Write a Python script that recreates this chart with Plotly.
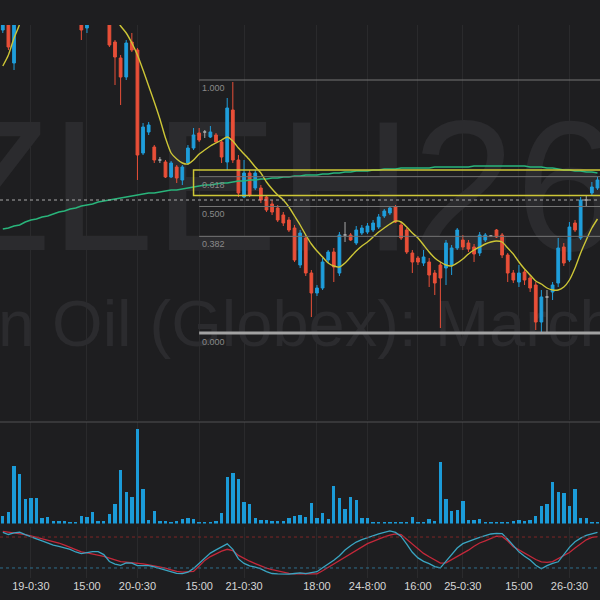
import plotly.graph_objects as go

# ---------------- data ----------------
opens = [54.70, 54.90, 54.37, 54.85, 55.10, 55.30, 55.45, 55.35, 55.25, 55.30,
         55.28, 55.20, 55.10, 55.15, 55.05, 54.72, 54.95, 55.15, 55.05, 54.88,
         54.58, 54.42, 54.23, 54.58, 54.50, 53.47, 53.68, 53.53, 53.40, 53.38,
         53.23, 53.33, 53.20, 53.37, 53.52, 53.67, 53.68, 53.63, 53.65, 53.58,
         53.38, 53.90, 53.40, 53.03, 53.27, 53.12, 53.12, 53.03, 52.96, 52.92,
         52.85, 52.80, 52.72, 52.35, 52.62, 52.27, 52.07, 52.12, 52.40, 52.48,
         52.27, 52.65, 52.65, 52.57, 52.67, 52.68, 52.70, 52.73, 52.84, 52.87,
         52.93, 52.75, 52.70, 52.47, 52.42, 52.37, 52.38, 52.27, 52.35, 52.32,
         52.35, 52.52, 52.60, 52.57, 52.53, 52.47, 52.60, 52.64, 52.70, 52.65,
         52.45, 52.27, 52.18, 52.28, 52.22, 52.15, 51.78, 52.03, 52.08, 52.17,
         52.53, 52.40, 52.77, 52.62, 53.00, 53.07, 53.12]
highs = [55.00, 54.95, 54.92, 55.15, 55.35, 55.50, 55.55, 55.45, 55.35, 55.40,
         55.38, 55.30, 55.25, 55.25, 55.15, 55.10, 55.20, 55.25, 55.15, 54.92,
         54.60, 54.45, 54.60, 54.67, 54.52, 53.77, 53.78, 53.55, 53.43, 53.40,
         53.39, 53.35, 53.35, 53.55, 53.72, 53.72, 53.70, 53.74, 53.67, 53.60,
         54.02, 54.18, 53.45, 53.40, 53.30, 53.30, 53.15, 53.05, 53.00, 52.95,
         52.88, 52.83, 52.75, 52.70, 52.65, 52.30, 52.15, 52.42, 52.50, 52.52,
         52.68, 52.78, 52.67, 52.74, 52.75, 52.77, 52.80, 52.86, 52.91, 52.94,
         52.95, 52.78, 52.72, 52.50, 52.44, 52.50, 52.42, 52.30, 52.38, 52.60,
         52.55, 52.72, 52.65, 52.60, 52.56, 52.68, 52.67, 52.65, 52.71, 52.67,
         52.47, 52.30, 52.35, 52.30, 52.25, 52.18, 52.10, 52.10, 52.18, 52.62,
         52.57, 52.78, 52.80, 53.03, 53.04, 53.18, 53.23]
lows = [54.67, 54.50, 54.30, 54.80, 55.05, 55.25, 55.30, 55.20, 55.15, 55.20,
        55.15, 55.05, 55.00, 54.95, 54.60, 54.67, 54.90, 55.00, 54.82, 54.53,
        54.15, 53.95, 54.20, 54.48, 53.20, 53.45, 53.65, 53.37, 53.37, 53.22,
        53.22, 53.17, 53.15, 53.35, 53.50, 53.58, 53.62, 53.62, 53.57, 53.37,
        53.30, 53.37, 53.03, 53.02, 53.03, 53.10, 52.97, 52.88, 52.85, 52.78,
        52.74, 52.68, 52.38, 52.32, 52.24, 51.83, 52.04, 52.10, 52.37, 52.18,
        52.24, 52.58, 52.59, 52.55, 52.65, 52.66, 52.68, 52.71, 52.82, 52.85,
        52.77, 52.60, 52.46, 52.27, 52.35, 52.34, 52.13, 52.05, 51.72, 52.15,
        52.25, 52.50, 52.50, 52.48, 52.38, 52.44, 52.58, 52.63, 52.62, 52.42,
        52.18, 52.17, 52.13, 52.15, 52.08, 51.70, 51.68, 51.68, 52.00, 52.13,
        52.34, 52.38, 52.68, 52.60, 52.93, 53.05, 53.10]
closes = [54.95, 54.53, 54.85, 55.10, 55.30, 55.45, 55.35, 55.25, 55.30, 55.28,
          55.20, 55.10, 55.15, 55.05, 54.70, 54.95, 55.15, 55.05, 54.90, 54.55,
          54.43, 54.23, 54.57, 54.50, 53.45, 53.73, 53.75, 53.40, 53.40, 53.23,
          53.37, 53.22, 53.33, 53.52, 53.65, 53.60, 53.68, 53.68, 53.58, 53.43,
          53.92, 53.40, 53.07, 53.27, 53.05, 53.27, 53.00, 52.90, 52.88, 52.80,
          52.77, 52.70, 52.40, 52.67, 52.27, 52.07, 52.12, 52.38, 52.48, 52.33,
          52.65, 52.65, 52.60, 52.70, 52.72, 52.74, 52.77, 52.83, 52.89, 52.92,
          52.78, 52.62, 52.48, 52.38, 52.38, 52.43, 52.25, 52.17, 52.22, 52.57,
          52.52, 52.70, 52.53, 52.51, 52.46, 52.65, 52.65, 52.64, 52.63, 52.45,
          52.27, 52.20, 52.27, 52.20, 52.12, 51.78, 52.03, 52.03, 52.15, 52.52,
          52.37, 52.73, 52.70, 53.00, 53.00, 53.13, 53.20]
ma_fast = [54.34, 54.45, 54.62, 54.76, 55.10, 55.30, 55.40, 55.45, 55.45, 55.40,
           55.35, 55.30, 55.25, 55.20, 55.15, 55.10, 55.05, 55.00, 54.95, 54.90,
           54.82, 54.74, 54.67, 54.57, 54.45, 54.30, 54.14, 53.98, 53.81, 53.62,
           53.47, 53.41, 53.37, 53.36, 53.40, 53.46, 53.50, 53.54, 53.57, 53.60,
           53.63, 53.59, 53.52, 53.46, 53.40, 53.33, 53.27, 53.18, 53.11, 53.05,
           53.00, 52.93, 52.84, 52.75, 52.65, 52.56, 52.49, 52.43, 52.37, 52.34,
           52.33, 52.37, 52.43, 52.49, 52.54, 52.58, 52.63, 52.68, 52.72, 52.76,
           52.79, 52.78, 52.73, 52.67, 52.62, 52.55, 52.48, 52.42, 52.38, 52.35,
           52.34, 52.37, 52.41, 52.46, 52.50, 52.53, 52.56, 52.58, 52.59, 52.58,
           52.52, 52.46, 52.38, 52.31, 52.25, 52.19, 52.16, 52.12, 52.10, 52.10,
           52.13, 52.20, 52.32, 52.47, 52.60, 52.72, 52.81]
ma_slow = [52.71, 52.72, 52.74, 52.75, 52.78, 52.80, 52.81, 52.83, 52.84, 52.86,
           52.88, 52.89, 52.91, 52.92, 52.94, 52.95, 52.96, 52.98, 52.99, 53.00,
           53.01, 53.02, 53.03, 53.04, 53.05, 53.06, 53.07, 53.07, 53.08, 53.09,
           53.10, 53.10, 53.11, 53.12, 53.13, 53.14, 53.15, 53.15, 53.16, 53.17,
           53.17, 53.18, 53.19, 53.19, 53.20, 53.20, 53.21, 53.21, 53.22, 53.22,
           53.23, 53.23, 53.24, 53.24, 53.25, 53.25, 53.25, 53.26, 53.26, 53.27,
           53.27, 53.28, 53.28, 53.29, 53.29, 53.29, 53.30, 53.30, 53.31, 53.31,
           53.31, 53.32, 53.32, 53.32, 53.32, 53.32, 53.32, 53.33, 53.33, 53.33,
           53.33, 53.33, 53.33, 53.33, 53.34, 53.34, 53.34, 53.34, 53.34, 53.34,
           53.34, 53.34, 53.34, 53.34, 53.33, 53.33, 53.33, 53.32, 53.32, 53.31,
           53.30, 53.30, 53.29, 53.29, 53.28, 53.28, 53.27]
volume = [200, 300, 1450, 1250, 625, 650, 650, 150, 175, 75,
          75, 75, 25, 50, 200, 175, 300, 75, 75, 250,
          500, 1350, 800, 675, 2375, 875, 100, 325, 75, 75,
          25, 75, 125, 150, 125, 50, 25, 25, 75, 275,
          1175, 1275, 1125, 550, 500, 150, 100, 100, 75, 75,
          75, 150, 200, 225, 175, 525, 150, 275, 125, 950,
          650, 375, 675, 600, 150, 150, 25, 25, 25, 25,
          25, 25, 25, 175, 25, 25, 125, 75, 1550, 625,
          325, 350, 575, 100, 100, 125, 25, 25, 25, 25,
          50, 75, 100, 75, 100, 200, 450, 500, 1050, 800,
          775, 450, 875, 150, 150, 25, 25]
stoch_k = [88.8, 84.9, 88.0, 89.2, 84.7, 80.0, 76.5, 72.5, 67.8, 64.3,
           61.8, 58.9, 56.2, 51.0, 47.7, 49.8, 51.7, 51.6, 45.9, 32.6,
           27.7, 25.0, 29.8, 29.3, 24.4, 24.4, 24.4, 22.3, 19.4, 15.7,
           12.2, 9.5, 8.9, 11.8, 19.2, 29.5, 39.3, 48.8, 55.0, 60.9,
           66.7, 56.2, 37.6, 28.9, 24.2, 21.5, 18.4, 13.0, 9.3, 8.5,
           7.8, 8.1, 9.3, 10.5, 8.9, 10.3, 12.8, 20.3, 27.5, 34.9,
           43.8, 54.7, 63.2, 70.3, 74.8, 79.1, 82.8, 86.2, 89.1, 91.7,
           89.0, 81.2, 66.3, 50.4, 39.5, 32.8, 28.5, 22.7, 20.2, 32.8,
           46.3, 58.7, 67.1, 71.9, 75.6, 79.1, 82.6, 85.9, 87.2, 86.6,
           75.6, 63.8, 51.2, 42.8, 35.5, 25.4, 18.6, 24.4, 29.1, 32.0,
           46.7, 59.9, 70.7, 77.9, 83.3, 86.2, 89.1]
stoch_d = [91.1, 89.7, 88.6, 87.4, 84.7, 82.0, 79.3, 76.5, 73.8, 71.1,
           68.4, 64.1, 59.7, 55.0, 51.2, 49.4, 47.5, 45.7, 42.6, 39.1,
           35.5, 32.2, 31.2, 30.4, 29.5, 28.1, 26.2, 24.4, 22.5, 19.6,
           16.5, 13.4, 11.8, 12.2, 13.4, 23.8, 34.7, 42.1, 47.7, 52.5,
           56.2, 53.5, 44.4, 38.4, 33.1, 28.5, 23.8, 19.6, 16.7, 14.0,
           11.6, 9.7, 8.7, 9.7, 9.3, 8.7, 8.5, 14.7, 21.1, 27.9,
           34.7, 41.3, 48.1, 54.3, 61.0, 67.1, 71.7, 76.4, 80.2, 83.7,
           86.2, 84.7, 75.8, 67.1, 57.6, 48.3, 41.7, 34.9, 29.3, 30.0,
           36.0, 42.2, 48.3, 54.5, 62.2, 68.4, 72.7, 77.5, 81.8, 81.0,
           72.3, 61.4, 55.2, 47.9, 41.9, 36.4, 32.0, 30.8, 32.4, 37.8,
           43.2, 50.0, 58.7, 67.4, 74.6, 79.3, 80.8]
tick_bars = [5, 15, 24, 35, 43, 56, 65, 74, 82, 92, 101]
tick_labels = ["19-0:30", "15:00", "20-0:30", "15:00", "21-0:30", "18:00",
               "24-8:00", "16:00", "25-0:30", "15:00", "26-0:30"]
fib_levels = [1.0, 0.618, 0.5, 0.382, 0.0]
fib_labels = ["1.000", "0.618", "0.500", "0.382", "0.000"]
fib_high = 54.20
fib_low = 51.67
fib_start_bar = 35
zone_top = 53.30
zone_bottom = 53.045
zone_start_bar = 34
last_price = 53.00
stoch_upper = 80
stoch_lower = 20
symbol = "ZLEH26"
description = "Soybean Oil (Globex): March 2026"

n = len(closes)
for arr in (opens, highs, lows, ma_fast, ma_slow, volume, stoch_k, stoch_d):
    assert len(arr) == n, len(arr)
bars = list(range(n))

# ---------------- styles / geometry ----------------
BG = "#1e1e20"
GRID = "#2a2a2c"
UP = "#1f9edb"
DOWN = "#e84f38"
DOJI = "#a8a8a8"
VOL = "#1b9bd8"
YELLOW = "#cdc636"
GREEN = "#29b57b"
WM = "#2b2b2e"
FONT = "Liberation Sans, Arial, sans-serif"


def py(p):
    return 1 - p / 600.0


main_dom = [py(420), py(25)]
vol_dom = [py(523.5), py(422)]
sto_dom = [py(578.3), py(526.7)]
x_range = [-0.5, 106.45]
price_range = [50.80, 54.75]
vol_range = [0, 2540]

fig = go.Figure()

# watermark on base subplot (drawn beneath everything)
wm_x = x_range[0] + 0.463 * (x_range[1] - x_range[0])
fig.add_trace(go.Scatter(x=[wm_x], y=[0.548], mode="text", text=[symbol],
                         textfont=dict(size=186, color=WM, family=FONT),
                         xaxis="x", yaxis="y", hoverinfo="skip", showlegend=False))
fig.add_trace(go.Scatter(x=[wm_x], y=[0.229], mode="text", text=[description],
                         textfont=dict(size=65, color=WM, family=FONT),
                         xaxis="x", yaxis="y", hoverinfo="skip", showlegend=False))

is_doji = [abs(o - c) < 1e-9 for o, c in zip(opens, closes)]
idx_n = [i for i in bars if not is_doji[i]]
idx_d = [i for i in bars if is_doji[i]]


def sel(arr, idx):
    return [arr[i] for i in idx]


fig.add_trace(go.Candlestick(
    x=idx_n, open=sel(opens, idx_n), high=sel(highs, idx_n),
    low=sel(lows, idx_n), close=sel(closes, idx_n),
    increasing=dict(line=dict(color=UP, width=1), fillcolor=UP),
    decreasing=dict(line=dict(color=DOWN, width=1), fillcolor=DOWN),
    whiskerwidth=0, xaxis="x", yaxis="y4", hoverinfo="skip", showlegend=False))
fig.add_trace(go.Candlestick(
    x=idx_d, open=sel(opens, idx_d), high=sel(highs, idx_d),
    low=sel(lows, idx_d), close=sel(closes, idx_d),
    increasing=dict(line=dict(color=DOJI, width=1), fillcolor=DOJI),
    decreasing=dict(line=dict(color=DOJI, width=1), fillcolor=DOJI),
    whiskerwidth=0, xaxis="x", yaxis="y4", hoverinfo="skip", showlegend=False))
fig.add_trace(go.Scatter(x=bars, y=ma_slow, mode="lines",
                         line=dict(color=GREEN, width=1.5),
                         xaxis="x", yaxis="y4", hoverinfo="skip", showlegend=False))
fig.add_trace(go.Scatter(x=bars, y=ma_fast, mode="lines",
                         line=dict(color=YELLOW, width=1.4, shape="spline", smoothing=0.6),
                         xaxis="x", yaxis="y4", hoverinfo="skip", showlegend=False))

fig.add_trace(go.Bar(x=bars, y=volume, marker=dict(color=VOL, line=dict(width=0)),
                     width=0.6, xaxis="x2", yaxis="y2", hoverinfo="skip", showlegend=False))

fig.add_trace(go.Scatter(x=bars, y=stoch_d, mode="lines", line=dict(color="#c4283a", width=1.3),
                         xaxis="x3", yaxis="y3", hoverinfo="skip", showlegend=False))
fig.add_trace(go.Scatter(x=bars, y=stoch_k, mode="lines", line=dict(color="#3aa5c2", width=1.3),
                         xaxis="x3", yaxis="y3", hoverinfo="skip", showlegend=False))

shapes = []
annotations = []
for lvl, lab in zip(fib_levels, fib_labels):
    price = fib_low + lvl * (fib_high - fib_low)
    thick = lvl == 0.0
    shapes.append(dict(type="line", xref="x", yref="y4", x0=fib_start_bar, x1=x_range[1] + 2,
                       y0=price, y1=price,
                       line=dict(color="#a2a2a2" if thick else "#747474", width=3 if thick else 1)))
    annotations.append(dict(xref="x", yref="y4", x=fib_start_bar, y=price, text=lab,
                            xanchor="left", yanchor="top", showarrow=False, xshift=1,
                            yshift=-2 if thick else -1,
                            font=dict(size=9, color="#8a8a8a", family=FONT)))
shapes.append(dict(type="rect", xref="x", yref="y4", x0=zone_start_bar, x1=x_range[1] + 3,
                   y0=zone_bottom, y1=zone_top, line=dict(color=YELLOW, width=1.5)))
shapes.append(dict(type="line", xref="paper", yref="y4", x0=0, x1=1, y0=last_price, y1=last_price,
                   line=dict(color="#a8a8a8", width=1, dash="3px,3px")))
shapes.append(dict(type="line", xref="paper", yref="paper", x0=0, x1=1, y0=py(422), y1=py(422),
                   line=dict(color="#505052", width=1)))
shapes.append(dict(type="line", xref="paper", yref="y3", x0=0, x1=1, y0=stoch_upper, y1=stoch_upper,
                   line=dict(color="#7e2626", width=1, dash="3px,3px")))
shapes.append(dict(type="line", xref="paper", yref="y3", x0=0, x1=1, y0=stoch_lower, y1=stoch_lower,
                   line=dict(color="#2f6f8c", width=1, dash="3px,3px")))

xcommon = dict(showgrid=True, gridcolor=GRID, gridwidth=1, zeroline=False, showline=False,
               ticks="", tickmode="array", tickvals=tick_bars, ticktext=tick_labels)

fig.update_layout(
    width=600, height=600, margin=dict(l=0, r=0, t=0, b=0),
    paper_bgcolor=BG, plot_bgcolor=BG, showlegend=False, bargap=0,
    xaxis=dict(domain=[0, 1], anchor="y", range=x_range, showticklabels=False,
               rangeslider=dict(visible=False), **xcommon),
    yaxis=dict(domain=main_dom, range=[0, 1], visible=False, anchor="x"),
    yaxis4=dict(overlaying="y", range=price_range, visible=False, anchor="x"),
    xaxis2=dict(domain=[0, 1], anchor="y2", matches="x", showticklabels=False, **xcommon),
    yaxis2=dict(domain=vol_dom, range=vol_range, visible=False, anchor="x2"),
    xaxis3=dict(domain=[0, 1], anchor="y3", matches="x", showticklabels=True,
                tickfont=dict(size=11, color="#d6d6d6", family=FONT), **xcommon),
    yaxis3=dict(domain=sto_dom, range=[0, 100], visible=False, anchor="x3"),
    shapes=shapes, annotations=annotations,
)

fig.write_html("out.html", config={"displayModeBar": False},
               post_script="document.body.style.margin='0';document.body.style.background='" + BG + "';")
